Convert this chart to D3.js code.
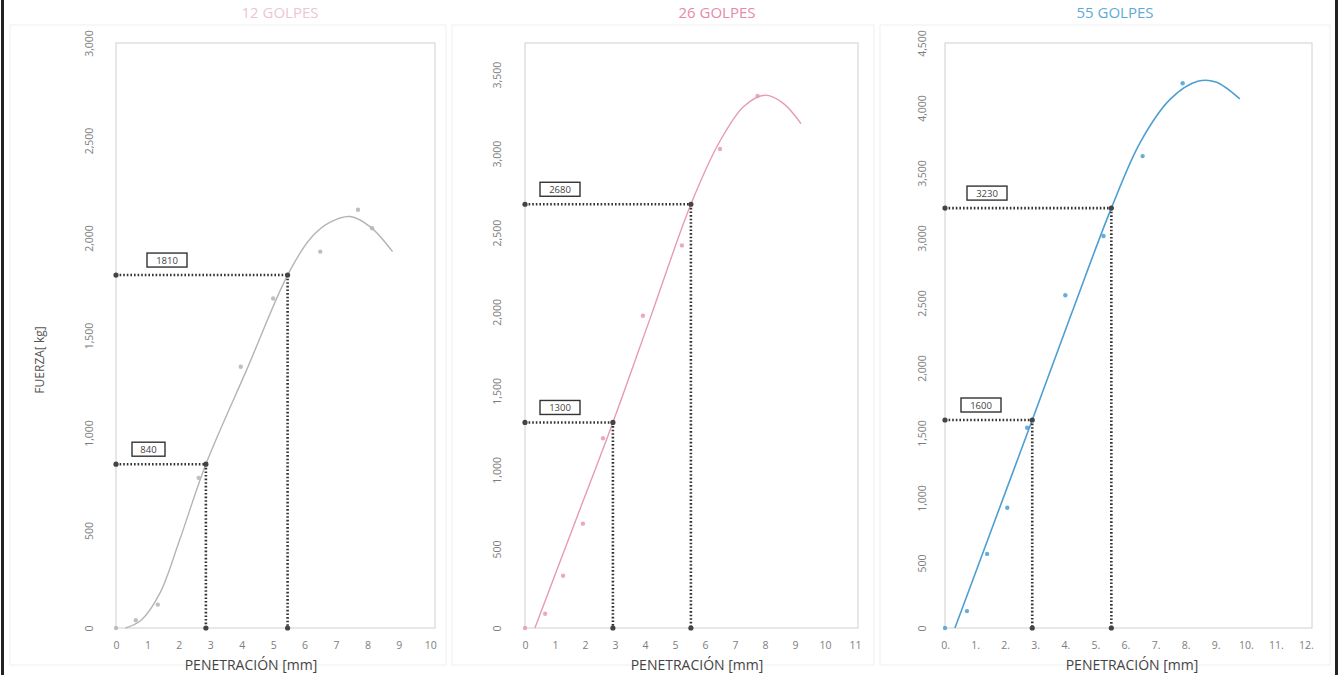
<!DOCTYPE html>
<meta charset="utf-8">
<head>
    <title>CBR</title>
</head>

<style>
body { margin: 0; background: #fff; }
.tick text { font: 10.5px "Open Sans", sans-serif; fill: #7d7d7d; }
.axis path { display: none; }
.title { font: 15px "Open Sans", sans-serif; text-anchor: middle; }
.xlabel { font: 14px "Open Sans", sans-serif; fill: #444; text-anchor: middle; }
.ylabel { font: 12px "Open Sans", sans-serif; fill: #555; text-anchor: middle; }
.dots line { stroke: #333; stroke-width: 2.6; stroke-dasharray: 1.6,2; }
.box rect { fill: #fff; stroke: #333; stroke-width: 1.4; }
.box text { font: 9.5px "Open Sans", sans-serif; fill: #444; text-anchor: middle; }
</style>
<body>
<script src="https://cdn.jsdelivr.net/npm/d3@7"></script>
<script>

// ---- data ----
var titles = ["12 GOLPES", "26 GOLPES", "55 GOLPES"];

var xTicks1 = [0, 1, 2, 3, 4, 5, 6, 7, 8, 9, 10];
var xTicks2 = [0, 1, 2, 3, 4, 5, 6, 7, 8, 9, 10, 11];
var xTicks3 = [0, 1, 2, 3, 4, 5, 6, 7, 8, 9, 10, 11, 12];
var xLabels3 = ["0.", "1.", "2.", "3.", "4.", "5.", "6.", "7.", "8.", "9.", "10.", "11.", "12."];

var yTicks1 = [0, 500, 1000, 1500, 2000, 2500, 3000];
var yTicks2 = [0, 500, 1000, 1500, 2000, 2500, 3000, 3500];
var yTicks3 = [0, 500, 1000, 1500, 2000, 2500, 3000, 3500, 4000, 4500];

// measured points
var points1 = [[0.0, 0], [0.63, 40], [1.33, 120], [2.63, 770], [3.97, 1340], [5.0, 1690], [6.5, 1930], [7.7, 2145], [8.15, 2050]];
var points2 = [[0.0, 0], [0.67, 90], [1.27, 330], [1.93, 660], [2.6, 1200], [3.93, 1975], [5.23, 2420], [6.5, 3030], [7.75, 3365]];
var points3 = [[0.0, 0], [0.73, 130], [1.4, 570], [2.07, 925], [2.73, 1540], [4.0, 2560], [5.27, 3015], [6.57, 3630], [7.9, 4190]];

// fitted curves (control points)
var curve1 = [[0.3, 0], [0.8, 40], [1.4, 180], [2.0, 440], [2.86, 840], [4.16, 1325], [5.46, 1810], [6.2, 2000], [6.8, 2080], [7.45, 2110], [8.1, 2056], [8.8, 1930]];
var curve2 = [[0.33, 0], [1.63, 650], [2.93, 1300], [4.23, 1990], [5.53, 2680], [6.5, 3080], [7.3, 3300], [8.0, 3370], [8.6, 3320], [9.2, 3190]];
var curve3 = [[0.33, 0], [1.6, 790], [2.9, 1600], [4.2, 2415], [5.53, 3230], [6.5, 3740], [7.5, 4070], [8.4, 4205], [9.0, 4200], [9.8, 4070]];

// CBR read-offs
var marks1 = [[2.86, 840], [5.46, 1810]];
var marks2 = [[2.93, 1300], [5.53, 2680]];
var marks3 = [[2.9, 1600], [5.53, 3230]];

// ---- layout ----
var plotTop = 43, plotBottom = 628;

var panels = [
  { left: 116, right: 435, xMax: 10.15, yMax: 3000, xTicks: xTicks1, xLabels: null, yTicks: yTicks1,
    points: points1, curve: curve1, marks: marks1, color: "#b4b4b4", titleColor: "#ecc6d2",
    titleX: 280, labelDx: [16, 31], yOff: 27, xTitle: 251 },
  { left: 525, right: 858, xMax: 11.1, yMax: 3700, xTicks: xTicks2, xLabels: null, yTicks: yTicks2,
    points: points2, curve: curve2, marks: marks2, color: "#e79ab3", titleColor: "#e58aa8",
    titleX: 717, labelDx: [15, 15], yOff: 28, xTitle: 697 },
  { left: 945, right: 1312, xMax: 12.2, yMax: 4500, xTicks: xTicks3, xLabels: xLabels3, yTicks: yTicks3,
    points: points3, curve: curve3, marks: marks3, color: "#4d9fd2", titleColor: "#5eaad6",
    titleX: 1115, labelDx: [16, 22], yOff: 23, xTitle: 1132 }
];

var svg = d3.select("body").append("svg")
    .attr("width", 1344)
    .attr("height", 675);

// outer frame lines
svg.append("rect").attr("x", 1).attr("y", 0).attr("width", 3).attr("height", 675).style("fill", "#222");
svg.append("rect").attr("x", 1335).attr("y", 0).attr("width", 3).attr("height", 675).style("fill", "#222");

// faint panel outlines
[[10, 446], [452, 874], [880, 1330]].forEach(function(p) {
  svg.append("rect")
      .attr("x", p[0]).attr("y", 25)
      .attr("width", p[1] - p[0]).attr("height", 640)
      .style("fill", "none")
      .style("stroke", "#efefef");
});

panels.forEach(function(p, i) {
  var x = d3.scaleLinear().domain([0, p.xMax]).range([p.left, p.right]);
  var y = d3.scaleLinear().domain([0, p.yMax]).range([plotBottom, plotTop]);

  var g = svg.append("g");

  // title
  g.append("text")
      .attr("class", "title")
      .attr("x", p.titleX)
      .attr("y", 18)
      .style("fill", p.titleColor)
      .text(titles[i]);

  // plot box
  g.append("rect")
      .attr("x", p.left).attr("y", plotTop)
      .attr("width", p.right - p.left).attr("height", plotBottom - plotTop)
      .style("fill", "none")
      .style("stroke", "#d0d0d0");

  // x axis
  var xAxis = d3.axisBottom(x).tickValues(p.xTicks).tickSize(0).tickPadding(14);
  if (p.xLabels) xAxis.tickFormat(function(d, k) { return p.xLabels[k]; });
  g.append("g")
      .attr("class", "axis")
      .attr("transform", "translate(0," + plotBottom + ")")
      .call(xAxis);

  // y axis, rotated labels
  g.append("g")
      .attr("class", "axis")
      .attr("transform", "translate(" + p.left + ",0)")
      .call(d3.axisLeft(y).tickValues(p.yTicks).tickSize(0).tickFormat(d3.format(",")))
    .selectAll("text")
      .attr("transform", "rotate(-90)")
      .attr("x", 0)
      .attr("y", -p.yOff)
      .attr("dy", "0.35em")
      .style("text-anchor", "middle");

  // x title
  g.append("text")
      .attr("class", "xlabel")
      .attr("x", p.xTitle)
      .attr("y", 670)
      .text("PENETRACIÓN  [mm]");

  // fitted curve
  var line = d3.line()
      .curve(d3.curveCatmullRom.alpha(0.5))
      .x(function(d) { return x(d[0]); })
      .y(function(d) { return y(d[1]); });

  g.append("path")
      .datum(p.curve)
      .attr("d", line)
      .style("fill", "none")
      .style("stroke", p.color)
      .style("stroke-width", i == 2 ? 1.6 : 1.4);

  // measured points
  g.selectAll(".pt")
      .data(p.points)
    .enter().append("circle")
      .attr("class", "pt")
      .attr("cx", function(d) { return x(d[0]); })
      .attr("cy", function(d) { return y(d[1]); })
      .attr("r", 2.2)
      .style("fill", p.color)
      .style("opacity", 0.85);

  // dotted read-off lines
  var dots = g.append("g").attr("class", "dots");
  p.marks.forEach(function(m, k) {
    dots.append("line")
        .attr("x1", x(0)).attr("y1", y(m[1]))
        .attr("x2", x(m[0])).attr("y2", y(m[1]));
    dots.append("line")
        .attr("x1", x(m[0])).attr("y1", y(m[1]))
        .attr("x2", x(m[0])).attr("y2", y(0));
    [[0, m[1]], [m[0], m[1]], [m[0], 0]].forEach(function(c) {
      g.append("circle")
          .attr("cx", x(c[0])).attr("cy", y(c[1]))
          .attr("r", 2.6)
          .style("fill", "#444");
    });

    // value box
    var label = String(m[1]);
    var w = label.length * 7 + 12;
    var box = g.append("g").attr("class", "box")
        .attr("transform", "translate(" + (x(0) + p.labelDx[k]) + "," + (y(m[1]) - 22) + ")");
    box.append("rect").attr("width", w).attr("height", 14);
    box.append("text").attr("x", w / 2).attr("y", 10.5).text(label);
  });
});

// y axis title (first panel only)
svg.append("text")
    .attr("class", "ylabel")
    .attr("transform", "translate(40,360) rotate(-90)")
    .attr("dy", "0.35em")
    .text("FUERZA[ kg]");

</script>
</body>
